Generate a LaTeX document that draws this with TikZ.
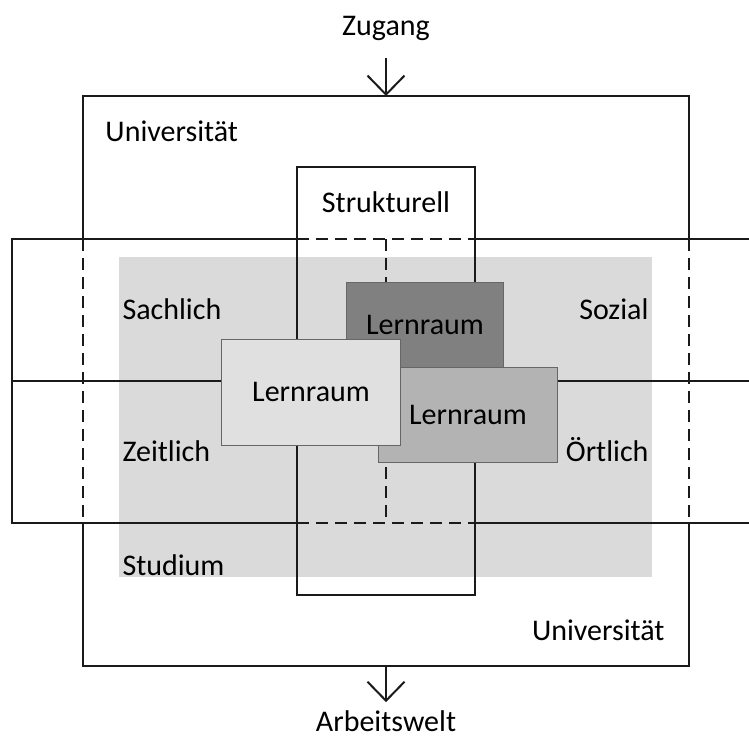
\documentclass[tikz,border=0pt]{standalone}
\usepackage{fontspec}
\setmainfont{Carlito}
\usetikzlibrary{arrows.meta, positioning}
\definecolor{studiumgrau}{HTML}{DADADA}
\definecolor{raumhell}{HTML}{E0E0E0}
\definecolor{raummittel}{HTML}{B3B3B3}
\definecolor{raumdunkel}{HTML}{808080}
\definecolor{liniengrau}{HTML}{1A1A1A}
\begin{document}
\begin{tikzpicture}[x=0.4pt, y=-0.4pt,
		every node/.style={font=\fontsize{12}{14}\selectfont, inner sep=0pt},
		linie/.style={line width=0.8pt, liniengrau},
		strich/.style={linie, dash pattern=on 4.8pt off 2.8pt},
		pfeil/.style={linie, -{Straight Barb[length=7.6pt, width=14.8pt]}},
		raum/.style={draw=black!60, line width=0.4pt, text=black}]
			\useasboundingbox (0,0) rectangle (749,748);
			\clip (0,0) rectangle (749,748);

			% Studium (grauer Hintergrund)
			\fill[studiumgrau] (119,257) rectangle (652,577);

			% Band: sachlich/sozial/zeitlich/oertlich
			\draw[linie] (297,239) -- (12,239) -- (12,523) -- (297,523);
			\draw[linie] (475,239) -- (760,239);
			\draw[linie] (475,523) -- (760,523);
			\draw[linie] (12,381) -- (760,381);
			\draw[strich] (297,239) -- (475,239);
			\draw[strich] (297,523) -- (475,523);

			% strukturell
			\draw[linie] (297,167) rectangle (475,595);
			\draw[strich] (386,239) -- (386,523);

			% Universitaet
			\draw[linie] (83,239) -- (83,96) -- (689,96) -- (689,239);
			\draw[linie] (83,523) -- (83,666) -- (689,666) -- (689,523);
			\draw[strich] (83,239) -- (83,523);
			\draw[strich] (689,239) -- (689,523);
			\coordinate (uniTop) at (386,96);
			\coordinate (uniBot) at (386,666);

			% Lernraeume
			\node (raumDunkel)[raum, fill=raumdunkel, minimum width=62.4pt, minimum height=34pt] at (425,324.5) {Lernraum};
			\node (raumMittel)[raum, fill=raummittel, minimum width=71.2pt, minimum height=38pt] at (468,414.5) {Lernraum};
			\node (raumHell)[raum, fill=raumhell, minimum width=71.2pt, minimum height=42.4pt] at (311,392) {Lernraum};

			% Beschriftungen
			\node (zugang)[anchor=base] at (386,35) {Zugang};
			\node (arbeitswelt)[anchor=base] at (386,731) {Arbeitswelt};
			\node (uniOben)[anchor=base west] at (105,141) {Universität};
			\node (uniUnten)[anchor=base east] at (665,640) {Universität};
			\node (struktur)[anchor=base] at (386,212) {Strukturell};
			\node (sachlich)[anchor=base west] at (122,319) {Sachlich};
			\node (sozial)[anchor=base east] at (649,319) {Sozial};
			\node (zeitlich)[anchor=base west] at (122,461) {Zeitlich};
			\node (oertlich)[anchor=base east] at (649,461) {Örtlich};
			\node (studium)[anchor=base west] at (122,575) {Studium};

			\draw[pfeil] ([yshift=-7pt]zugang.south) -- (uniTop);
			\draw[pfeil] (uniBot) -- ([yshift=3pt]arbeitswelt.north);
		\end{tikzpicture}
\end{document}
